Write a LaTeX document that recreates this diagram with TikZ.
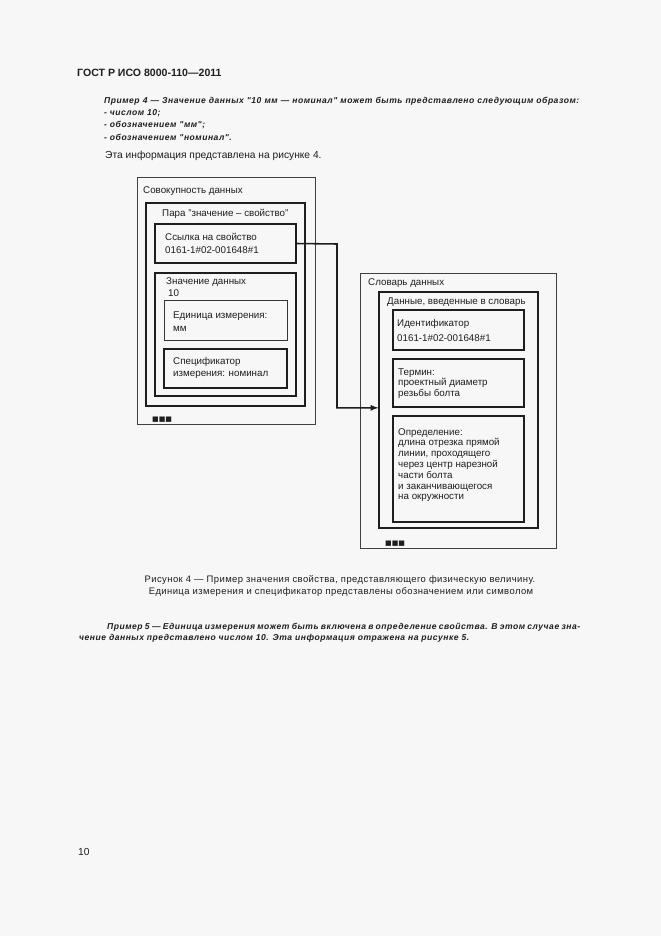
\documentclass[tikz,border=0pt]{standalone}
\usepackage{fontspec}
\setmainfont{Liberation Sans}
\newfontfamily\spacedsans[LetterSpace=6]{Liberation Sans}
\newfontfamily\capsans[LetterSpace=4.5]{Liberation Sans}
\newfontfamily\squaresans{DejaVu Sans}
\usetikzlibrary{arrows,positioning,fit}
\definecolor{paper}{RGB}{247,247,247}
\definecolor{ink}{RGB}{30,30,30}
\newcommand\headfnt{\bfseries\fontsize{9.5}{11}\selectfont}
\newcommand\bodyfnt{\fontsize{9.2}{11}\selectfont}
\newcommand\capfnt{\capsans\fontsize{8.5}{10}\selectfont}
\newcommand\exfnt{\spacedsans\bfseries\itshape\fontsize{7.7}{9}\selectfont}
\newcommand\sqfnt{\squaresans\fontsize{6.3}{6}\selectfont}
\tikzset{font=\fontsize{8.8}{10}\selectfont}
\tikzset{every node/.append style={text=ink}}
\tikzset{txt/.style={anchor=base west, inner sep=0pt, yshift=-2.8pt}}
\tikzset{outerbox/.style={draw=ink!85, line width=0.7pt, inner sep=0pt},
  pairbox/.style={draw=ink, line width=1pt, inner sep=0pt},
  fieldbox/.style={draw=ink, line width=1.5pt, inner sep=0pt},
  unitbox/.style={draw=ink!90, line width=0.9pt, inner sep=0pt},
  link/.style={draw=ink, line width=1.4pt, ->, >=latex}}

\begin{document}
\begin{tikzpicture}[x=0.9pt, y=-0.9pt]
\fill[paper] (0,0) rectangle (661,936);
\useasboundingbox (0,0) rectangle (661,936);

% text above the figure
\node[txt, font=\headfnt] (head) at (77,73) {ГОСТ Р ИСО 8000-110—2011};
\node[txt, font=\exfnt] (ex4) at (104,100) {\makebox[427.5pt][s]{Пример 4 — Значение данных "10 мм — номинал" может быть представлено следующим образом:}};
\foreach \t [count=\i] in {числом 10;, обозначением "мм";, обозначением "номинал".}
  \node[txt, font=\exfnt] (item\i) at (104,{100+12.3*\i}) {- \t};
\node[txt, font=\bodyfnt] (intro) at (105,155) {Эта информация представлена на рисунке 4.};

% data set
\node[outerbox, fit={(137,177) (315,424)}] (dset) {};
\node[pairbox, fit={(146,203) (305,406)}] (pair) {};
\node[fieldbox, fit={(155,224) (296,263)}] (ref) {};
\node[fieldbox, fit={(155,273) (296,396)}] (value) {};
\node[unitbox, fit={(164,300) (287,340)}] (unit) {};
\node[fieldbox, fit={(164,349) (287,388)}] (qual) {};
\node[txt] (dsetlbl) at (143,190) {Совокупность данных};
\node[txt] (pairlbl) at (162,213) {Пара "значение – свойство"};
\node[txt] (reflbl1) at (165,237) {Ссылка на свойство};
\node[txt] (reflbl2) at (165,250) {0161-1\#02-001648\#1};
\node[txt] (vallbl1) at (166,281) {Значение данных};
\node[txt] (vallbl2) at (168,293) {10};
\node[txt] (unitlbl1) at (173,315) {Единица измерения:};
\node[txt] (unitlbl2) at (173,328) {мм};
\node[txt] (quallbl1) at (173,361) {Спецификатор};
\node[txt] (quallbl2) at (173,373) {измерения: номинал};
\node[txt, font=\sqfnt] (dsetmore) at (152,418) {■■■};

% data dictionary
\node[outerbox, fit={(360,273) (556,548)}] (dict) {};
\node[pairbox, fit={(379,292) (538,528)}] (entry) {};
\node[fieldbox, fit={(393,310) (524,350)}] (ident) {};
\node[fieldbox, fit={(393,359) (524,407)}] (term) {};
\node[fieldbox, fit={(393,416) (524,522)}] (defn) {};
\node[txt] (dictlbl) at (368,282) {Словарь данных};
\node[txt] (entrylbl) at (387,301) {Данные, введенные в словарь};
\node[txt] (identlbl1) at (397,323) {Идентификатор};
\node[txt] (identlbl2) at (397,338) {0161-1\#02-001648\#1};
\foreach \t [count=\i from 0] in {Термин:, проектный диаметр, резьбы болта}
  \node[txt] (termlbl\i) at (398,{372+10.7*\i}) {\t};
\foreach \t [count=\i from 0] in {Определение:, длина отрезка прямой, {линии, проходящего}, через центр нарезной, части болта, и заканчивающегося, на окружности}
  \node[txt] (deflbl\i) at (398,{432+10.8*\i}) {\t};
\node[txt, font=\sqfnt] (dictmore) at (385,542) {■■■};

\coordinate (elbow) at (337,244);
\draw[link] (ref.east) -- (elbow) -- (elbow |- term.south) -- (entry.west |- term.south);

% caption and next example
\node[font=\capfnt] (cap1) at (340,580) {Рисунок 4 — Пример значения свойства, представляющего физическую величину.};
\node[font=\capfnt] (cap2) at (341,592) {Единица измерения и спецификатор представлены обозначением или символом};
\node[txt, font=\exfnt] (ex5a) at (107,626) {\makebox[425.7pt][s]{Пример 5 — Единица измерения может быть включена в определение свойства. В этом случае зна-}};
\node[txt, font=\exfnt] (ex5b) at (79,637) {чение данных представлено числом 10. Эта информация отражена на рисунке 5.};
\node[txt, font=\bodyfnt] (pageno) at (78,852) {10};
\end{tikzpicture}
\end{document}
